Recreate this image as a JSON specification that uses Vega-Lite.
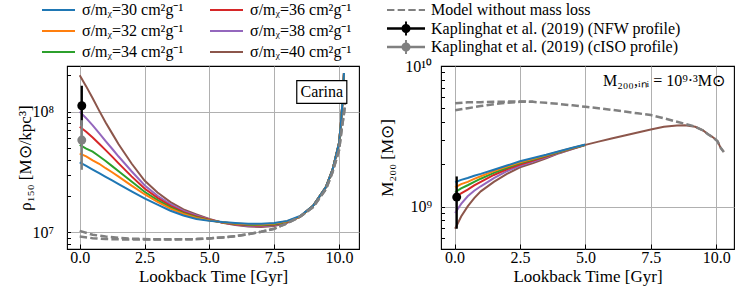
{
"$schema": "https://vega.github.io/schema/vega-lite/v6.json",
"background": "white",
"padding": {"left": 15, "top": 2, "right": 5, "bottom": 5},
"bounds": "flush",
"spacing": 82,
"config": {
  "font": "Liberation Serif",
  "view": {"stroke": "black", "strokeWidth": 1.1},
  "axis": {"domain": false, "labelFont": "Liberation Serif", "labelFontSize": 16, "labelColor": "black", "titleFont": "Liberation Serif", "titleFontSize": 17, "titleFontWeight": "normal", "titleColor": "black", "tickColor": "black", "tickWidth": 1, "gridColor": "#b0b0b0", "gridWidth": 1},
  "legend": {"labelFont": "Liberation Serif", "labelFontSize": 16, "labelColor": "black", "padding": 0, "labelLimit": 400},
  "text": {"font": "Liberation Serif"}
},
"datasets": {
"rho": [
{"t":0,"s":"40","v":2.0e8},{"t":0.25,"s":"40","v":1.62e8},{"t":0.5,"s":"40","v":1.29e8},{"t":0.75,"s":"40","v":1.02e8},{"t":1,"s":"40","v":8.13e7},{"t":1.25,"s":"40","v":6.61e7},{"t":1.5,"s":"40","v":5.37e7},{"t":2,"s":"40","v":3.72e7},{"t":2.5,"s":"40","v":2.69e7},{"t":3,"s":"40","v":2.14e7},{"t":3.5,"s":"40","v":1.78e7},{"t":4,"s":"40","v":1.55e7},{"t":4.5,"s":"40","v":1.41e7},{"t":5,"s":"40","v":1.29e7},{"t":5.5,"s":"40","v":1.2e7},{"t":6,"s":"40","v":1.148e7},{"t":6.5,"s":"40","v":1.117e7},{"t":7,"s":"40","v":1.109e7},{"t":7.5,"s":"40","v":1.13e7},{"t":8,"s":"40","v":1.2e7},{"t":8.5,"s":"40","v":1.35e7},{"t":9,"s":"40","v":1.66e7},{"t":9.5,"s":"40","v":2.39e7},{"t":9.75,"s":"40","v":3.31e7},{"t":10,"s":"40","v":5.5e7},{"t":10.07,"s":"40","v":7.94e7},{"t":10.13,"s":"40","v":1.175e8},{"t":10.19,"s":"40","v":2.09e8},
{"t":0,"s":"38","v":1.0e8},{"t":0.25,"s":"38","v":8.83e7},{"t":0.5,"s":"38","v":7.69e7},{"t":0.75,"s":"38","v":6.65e7},{"t":1,"s":"38","v":5.71e7},{"t":1.25,"s":"38","v":4.93e7},{"t":1.5,"s":"38","v":4.25e7},{"t":2,"s":"38","v":3.21e7},{"t":2.5,"s":"38","v":2.46e7},{"t":3,"s":"38","v":2.01e7},{"t":3.5,"s":"38","v":1.71e7},{"t":4,"s":"38","v":1.503e7},{"t":4.5,"s":"38","v":1.38e7},{"t":5,"s":"38","v":1.279e7},{"t":5.5,"s":"38","v":1.204e7},{"t":6,"s":"38","v":1.159e7},{"t":6.5,"s":"38","v":1.13e7},{"t":7,"s":"38","v":1.122e7},{"t":7.5,"s":"38","v":1.143e7},{"t":8,"s":"38","v":1.211e7},{"t":8.5,"s":"38","v":1.35e7},{"t":9,"s":"38","v":1.66e7},{"t":9.5,"s":"38","v":2.39e7},{"t":9.75,"s":"38","v":3.31e7},{"t":10,"s":"38","v":5.5e7},{"t":10.07,"s":"38","v":7.94e7},{"t":10.13,"s":"38","v":1.175e8},{"t":10.19,"s":"38","v":2.09e8},
{"t":0,"s":"36","v":7.5e7},{"t":0.25,"s":"36","v":6.82e7},{"t":0.5,"s":"36","v":6.11e7},{"t":0.75,"s":"36","v":5.42e7},{"t":1,"s":"36","v":4.8e7},{"t":1.25,"s":"36","v":4.24e7},{"t":1.5,"s":"36","v":3.73e7},{"t":2,"s":"36","v":2.91e7},{"t":2.5,"s":"36","v":2.31e7},{"t":3,"s":"36","v":1.93e7},{"t":3.5,"s":"36","v":1.66e7},{"t":4,"s":"36","v":1.472e7},{"t":4.5,"s":"36","v":1.355e7},{"t":5,"s":"36","v":1.271e7},{"t":5.5,"s":"36","v":1.208e7},{"t":6,"s":"36","v":1.169e7},{"t":6.5,"s":"36","v":1.143e7},{"t":7,"s":"36","v":1.138e7},{"t":7.5,"s":"36","v":1.156e7},{"t":8,"s":"36","v":1.219e7},{"t":8.5,"s":"36","v":1.35e7},{"t":9,"s":"36","v":1.66e7},{"t":9.5,"s":"36","v":2.39e7},{"t":9.75,"s":"36","v":3.31e7},{"t":10,"s":"36","v":5.5e7},{"t":10.07,"s":"36","v":7.94e7},{"t":10.13,"s":"36","v":1.175e8},{"t":10.19,"s":"36","v":2.09e8},
{"t":0,"s":"34","v":5.3e7},{"t":0.25,"s":"34","v":4.95e7},{"t":0.5,"s":"34","v":4.66e7},{"t":0.75,"s":"34","v":4.27e7},{"t":1,"s":"34","v":3.9e7},{"t":1.25,"s":"34","v":3.54e7},{"t":1.5,"s":"34","v":3.21e7},{"t":2,"s":"34","v":2.64e7},{"t":2.5,"s":"34","v":2.17e7},{"t":3,"s":"34","v":1.85e7},{"t":3.5,"s":"34","v":1.61e7},{"t":4,"s":"34","v":1.442e7},{"t":4.5,"s":"34","v":1.334e7},{"t":5,"s":"34","v":1.262e7},{"t":5.5,"s":"34","v":1.21e7},{"t":6,"s":"34","v":1.178e7},{"t":6.5,"s":"34","v":1.156e7},{"t":7,"s":"34","v":1.151e7},{"t":7.5,"s":"34","v":1.169e7},{"t":8,"s":"34","v":1.227e7},{"t":8.5,"s":"34","v":1.35e7},{"t":9,"s":"34","v":1.66e7},{"t":9.5,"s":"34","v":2.39e7},{"t":9.75,"s":"34","v":3.31e7},{"t":10,"s":"34","v":5.5e7},{"t":10.07,"s":"34","v":7.94e7},{"t":10.13,"s":"34","v":1.175e8},{"t":10.19,"s":"34","v":2.09e8},
{"t":0,"s":"32","v":4.49e7},{"t":0.25,"s":"32","v":4.26e7},{"t":0.5,"s":"32","v":3.95e7},{"t":0.75,"s":"32","v":3.7e7},{"t":1,"s":"32","v":3.4e7},{"t":1.25,"s":"32","v":3.15e7},{"t":1.5,"s":"32","v":2.9e7},{"t":2,"s":"32","v":2.44e7},{"t":2.5,"s":"32","v":2.07e7},{"t":3,"s":"32","v":1.79e7},{"t":3.5,"s":"32","v":1.57e7},{"t":4,"s":"32","v":1.419e7},{"t":4.5,"s":"32","v":1.315e7},{"t":5,"s":"32","v":1.253e7},{"t":5.5,"s":"32","v":1.213e7},{"t":6,"s":"32","v":1.186e7},{"t":6.5,"s":"32","v":1.167e7},{"t":7,"s":"32","v":1.164e7},{"t":7.5,"s":"32","v":1.183e7},{"t":8,"s":"32","v":1.236e7},{"t":8.5,"s":"32","v":1.35e7},{"t":9,"s":"32","v":1.66e7},{"t":9.5,"s":"32","v":2.39e7},{"t":9.75,"s":"32","v":3.31e7},{"t":10,"s":"32","v":5.5e7},{"t":10.07,"s":"32","v":7.94e7},{"t":10.13,"s":"32","v":1.175e8},{"t":10.19,"s":"32","v":2.09e8},
{"t":0,"s":"30","v":3.8e7},{"t":0.25,"s":"30","v":3.55e7},{"t":0.5,"s":"30","v":3.31e7},{"t":0.75,"s":"30","v":3.09e7},{"t":1,"s":"30","v":2.88e7},{"t":1.25,"s":"30","v":2.69e7},{"t":1.5,"s":"30","v":2.51e7},{"t":2,"s":"30","v":2.19e7},{"t":2.5,"s":"30","v":1.91e7},{"t":3,"s":"30","v":1.7e7},{"t":3.5,"s":"30","v":1.51e7},{"t":4,"s":"30","v":1.38e7},{"t":4.5,"s":"30","v":1.29e7},{"t":5,"s":"30","v":1.245e7},{"t":5.5,"s":"30","v":1.216e7},{"t":6,"s":"30","v":1.197e7},{"t":6.5,"s":"30","v":1.18e7},{"t":7,"s":"30","v":1.18e7},{"t":7.5,"s":"30","v":1.197e7},{"t":8,"s":"30","v":1.245e7},{"t":8.5,"s":"30","v":1.365e7},{"t":9,"s":"30","v":1.66e7},{"t":9.5,"s":"30","v":2.39e7},{"t":9.75,"s":"30","v":3.31e7},{"t":10,"s":"30","v":5.5e7},{"t":10.07,"s":"30","v":7.94e7},{"t":10.13,"s":"30","v":1.175e8},{"t":10.19,"s":"30","v":2.09e8}
],
"rhoModel": [
{"t":0,"k":"a","v":1.028e7},{"t":0.5,"k":"a","v":9.55e6},{"t":1,"k":"a","v":9.23e6},{"t":1.5,"k":"a","v":9.02e6},{"t":2,"k":"a","v":8.87e6},{"t":3,"k":"a","v":8.75e6},{"t":4,"k":"a","v":8.75e6},{"t":4.5,"k":"a","v":8.79e6},{"t":5,"k":"a","v":8.91e6},{"t":5.5,"k":"a","v":9.08e6},{"t":6,"k":"a","v":9.29e6},{"t":6.5,"k":"a","v":9.66e6},{"t":7,"k":"a","v":1.012e7},{"t":7.5,"k":"a","v":1.072e7},{"t":8,"k":"a","v":1.189e7},{"t":8.5,"k":"a","v":1.35e7},{"t":9,"k":"a","v":1.62e7},{"t":9.5,"k":"a","v":2.29e7},{"t":9.75,"k":"a","v":3.16e7},{"t":10,"k":"a","v":4.79e7},{"t":10.1,"k":"a","v":7.08e7},{"t":10.2,"k":"a","v":1.0e8},{"t":10.23,"k":"a","v":1.175e8},
{"t":0,"k":"b","v":9.23e6},{"t":0.5,"k":"b","v":8.95e6},{"t":1,"k":"b","v":8.81e6},{"t":1.5,"k":"b","v":8.75e6},{"t":2,"k":"b","v":8.71e6},{"t":3,"k":"b","v":8.71e6},{"t":4,"k":"b","v":8.75e6},{"t":4.5,"k":"b","v":8.79e6},{"t":5,"k":"b","v":8.91e6},{"t":5.5,"k":"b","v":9.08e6},{"t":6,"k":"b","v":9.29e6},{"t":6.5,"k":"b","v":9.66e6},{"t":7,"k":"b","v":1.012e7},{"t":7.5,"k":"b","v":1.072e7},{"t":8,"k":"b","v":1.189e7},{"t":8.5,"k":"b","v":1.35e7},{"t":9,"k":"b","v":1.62e7},{"t":9.5,"k":"b","v":2.29e7},{"t":9.75,"k":"b","v":3.16e7},{"t":10,"k":"b","v":4.79e7},{"t":10.1,"k":"b","v":7.08e7},{"t":10.2,"k":"b","v":1.0e8},{"t":10.23,"k":"b","v":1.175e8}
],
"m200": [
{"t":0.02,"s":"40","v":6.97e8},{"t":0.25,"s":"40","v":8.51e8},{"t":0.5,"s":"40","v":1.005e9},{"t":0.75,"s":"40","v":1.15e9},{"t":1,"s":"40","v":1.285e9},{"t":1.5,"s":"40","v":1.5e9},{"t":2,"s":"40","v":1.71e9},{"t":2.5,"s":"40","v":1.905e9},{"t":3,"s":"40","v":2.04e9},{"t":3.5,"s":"40","v":2.21e9},{"t":4,"s":"40","v":2.4e9},{"t":4.5,"s":"40","v":2.57e9},{"t":5,"s":"40","v":2.74e9},
{"t":0.02,"s":"38","v":9.02e8},{"t":0.25,"s":"38","v":1.047e9},{"t":0.5,"s":"38","v":1.186e9},{"t":0.75,"s":"38","v":1.297e9},{"t":1,"s":"38","v":1.396e9},{"t":1.5,"s":"38","v":1.596e9},{"t":2,"s":"38","v":1.786e9},{"t":2.5,"s":"38","v":1.95e9},{"t":3,"s":"38","v":2.09e9},{"t":3.5,"s":"38","v":2.244e9},{"t":4,"s":"38","v":2.415e9},{"t":4.5,"s":"38","v":2.58e9},{"t":5,"s":"38","v":2.75e9},
{"t":0.02,"s":"36","v":1.153e9},{"t":0.25,"s":"36","v":1.245e9},{"t":0.5,"s":"36","v":1.32e9},{"t":0.75,"s":"36","v":1.416e9},{"t":1,"s":"36","v":1.5e9},{"t":1.5,"s":"36","v":1.68e9},{"t":2,"s":"36","v":1.845e9},{"t":2.5,"s":"36","v":1.995e9},{"t":3,"s":"36","v":2.13e9},{"t":3.5,"s":"36","v":2.275e9},{"t":4,"s":"36","v":2.43e9},{"t":4.5,"s":"36","v":2.59e9},{"t":5,"s":"36","v":2.75e9},
{"t":0.02,"s":"34","v":1.27e9},{"t":0.25,"s":"34","v":1.35e9},{"t":0.5,"s":"34","v":1.42e9},{"t":0.75,"s":"34","v":1.5e9},{"t":1,"s":"34","v":1.58e9},{"t":1.5,"s":"34","v":1.74e9},{"t":2,"s":"34","v":1.89e9},{"t":2.5,"s":"34","v":2.04e9},{"t":3,"s":"34","v":2.16e9},{"t":3.5,"s":"34","v":2.3e9},{"t":4,"s":"34","v":2.45e9},{"t":4.5,"s":"34","v":2.6e9},{"t":5,"s":"34","v":2.75e9},
{"t":0.02,"s":"32","v":1.37e9},{"t":0.25,"s":"32","v":1.445e9},{"t":0.5,"s":"32","v":1.5e9},{"t":0.75,"s":"32","v":1.574e9},{"t":1,"s":"32","v":1.644e9},{"t":1.5,"s":"32","v":1.79e9},{"t":2,"s":"32","v":1.93e9},{"t":2.5,"s":"32","v":2.07e9},{"t":3,"s":"32","v":2.19e9},{"t":3.5,"s":"32","v":2.32e9},{"t":4,"s":"32","v":2.47e9},{"t":4.5,"s":"32","v":2.61e9},{"t":5,"s":"32","v":2.76e9},
{"t":0.02,"s":"30","v":1.49e9},{"t":0.25,"s":"30","v":1.55e9},{"t":0.5,"s":"30","v":1.6e9},{"t":0.75,"s":"30","v":1.66e9},{"t":1,"s":"30","v":1.71e9},{"t":1.5,"s":"30","v":1.83e9},{"t":2,"s":"30","v":1.96e9},{"t":2.5,"s":"30","v":2.1e9},{"t":3,"s":"30","v":2.22e9},{"t":3.5,"s":"30","v":2.34e9},{"t":4,"s":"30","v":2.48e9},{"t":4.5,"s":"30","v":2.62e9},{"t":5,"s":"30","v":2.77e9}
],
"m200tail": [
{"t":5,"v":2.75e9},{"t":5.5,"v":2.9e9},{"t":6,"v":3.05e9},{"t":6.5,"v":3.21e9},{"t":7,"v":3.37e9},{"t":7.5,"v":3.54e9},{"t":8,"v":3.7e9},{"t":8.5,"v":3.78e9},{"t":8.8,"v":3.79e9},{"t":9.2,"v":3.7e9},{"t":9.5,"v":3.48e9},{"t":9.7,"v":3.26e9},{"t":9.9,"v":3.09e9},{"t":10.05,"v":2.92e9},{"t":10.17,"v":2.62e9},{"t":10.29,"v":2.45e9}
],
"m200Model": [
{"t":0.02,"k":"a","v":5.43e9},{"t":0.5,"k":"a","v":5.52e9},{"t":1,"k":"a","v":5.53e9},{"t":1.5,"k":"a","v":5.56e9},{"t":2,"k":"a","v":5.58e9},{"t":2.5,"k":"a","v":5.6e9},{"t":3,"k":"a","v":5.56e9},{"t":3.5,"k":"a","v":5.47e9},{"t":4,"k":"a","v":5.37e9},{"t":4.5,"k":"a","v":5.25e9},{"t":5,"k":"a","v":5.13e9},{"t":5.5,"k":"a","v":5.01e9},{"t":6,"k":"a","v":4.88e9},{"t":6.5,"k":"a","v":4.74e9},{"t":7,"k":"a","v":4.61e9},{"t":7.5,"k":"a","v":4.48e9},{"t":8,"k":"a","v":4.25e9},{"t":8.5,"k":"a","v":4.01e9},{"t":9,"k":"a","v":3.8e9},{"t":9.2,"k":"a","v":3.7e9},{"t":9.5,"k":"a","v":3.48e9},{"t":9.7,"k":"a","v":3.26e9},{"t":9.9,"k":"a","v":3.09e9},{"t":10.05,"k":"a","v":2.92e9},{"t":10.17,"k":"a","v":2.62e9},{"t":10.29,"k":"a","v":2.45e9},
{"t":0.02,"k":"b","v":4.84e9},{"t":0.5,"k":"b","v":5.01e9},{"t":1,"k":"b","v":5.19e9},{"t":1.5,"k":"b","v":5.35e9},{"t":2,"k":"b","v":5.47e9},{"t":2.5,"k":"b","v":5.56e9},{"t":3,"k":"b","v":5.56e9}
],
"ptsL": [
{"src":"NFW","t":0.08,"v":1.12e8,"lo":7.66e7,"hi":1.64e8},
{"src":"cISO","t":0.08,"v":5.82e7,"lo":3.3e7,"hi":8.5e7}
],
"ptsR": [
{"src":"NFW","t":0.08,"v":1.17e9,"lo":6.97e8,"hi":1.64e9}
],
"legendItems": [
{"src":"Model without mass loss"},
{"src":"Kaplinghat et al. (2019) (NFW profile)"},
{"src":"Kaplinghat et al. (2019) (cISO profile)"}
]
},
"hconcat": [
{
"width": 292, "height": 183,
"layer": [
{"data": {"name": "rho"}, "mark": {"type": "line", "strokeWidth": 2},
 "encoding": {
  "x": {"field": "t", "type": "quantitative", "scale": {"domain": [-0.49, 10.77], "nice": false, "zero": false},
        "axis": {"values": [0, 2.5, 5, 7.5, 10], "format": ".1f", "title": "Lookback Time [Gyr]", "tickSize": -5, "labelPadding": 5, "titlePadding": 3, "grid": true, "labelFlush": false}},
  "y": {"field": "v", "type": "quantitative", "scale": {"type": "log", "domain": [7.28e6, 2.39e8], "nice": false},
        "axis": {"values": [8e6, 9e6, 1e7, 2e7, 3e7, 4e7, 5e7, 6e7, 7e7, 8e7, 9e7, 1e8, 2e8],
                 "labelExpr": "datum.value == 10000000 ? '10⁷' : datum.value == 100000000 ? '10⁸' : ''",
                 "title": "ρ₁₅₀ [M⊙/kpc³]", "tickSize": -3.5, "labelPadding": 17, "grid": true,
                 "gridOpacity": {"condition": {"test": "datum.value == 10000000 || datum.value == 100000000", "value": 1}, "value": 0},
                 "labelOverlap": false, "labelFlush": false, "titleX": -33, "titleY": 91.5, "titleBaseline": "bottom", "titleAlign": "center", "titleAngle": 270}},
  "stroke": {"field": "s", "type": "nominal",
             "scale": {"domain": ["30","32","34","36","38","40"], "range": ["#1f77b4","#ff7f0e","#2ca02c","#d62728","#9467bd","#8c564b"]},
             "legend": {"orient": "none", "legendX": -16.5, "legendY": -64, "columns": 2, "title": null, "symbolType": "M-3.3,0H3.3", "symbolSize": 100, "symbolStrokeWidth": 2, "labelExpr": "'σ/mᵪ=' + datum.label + ' cm²g⁻¹'", "rowPadding": 5, "columnPadding": 22, "labelOffset": 15.5}}
 }},
{"data": {"name": "rhoModel"}, "mark": {"type": "line", "color": "#808080", "strokeWidth": 2.5, "strokeDash": [7.4, 3.2]},
 "encoding": {
  "x": {"field": "t", "type": "quantitative", "scale": {"domain": [-0.49, 10.77], "nice": false, "zero": false}},
  "y": {"field": "v", "type": "quantitative", "scale": {"type": "log", "domain": [7.28e6, 2.39e8], "nice": false}},
  "detail": {"field": "k"}
 }},
{"data": {"name": "ptsL"}, "transform": [{"filter": "datum.src == 'NFW'"}], "mark": {"type": "rule", "color": "black", "strokeWidth": 2.3},
 "encoding": {
  "x": {"field": "t", "type": "quantitative", "scale": {"domain": [-0.49, 10.77], "nice": false, "zero": false}},
  "y": {"field": "lo", "type": "quantitative", "scale": {"type": "log", "domain": [7.28e6, 2.39e8], "nice": false}},
  "y2": {"field": "hi"}
 }},
{"data": {"name": "ptsL"}, "transform": [{"filter": "datum.src == 'NFW'"}], "mark": {"type": "point", "filled": true, "color": "black", "size": 80, "opacity": 1},
 "encoding": {
  "x": {"field": "t", "type": "quantitative", "scale": {"domain": [-0.49, 10.77], "nice": false, "zero": false}},
  "y": {"field": "v", "type": "quantitative", "scale": {"type": "log", "domain": [7.28e6, 2.39e8], "nice": false}}
 }},
{"data": {"name": "ptsL"}, "transform": [{"filter": "datum.src == 'cISO'"}], "mark": {"type": "rule", "color": "#808080", "strokeWidth": 2.3},
 "encoding": {
  "x": {"field": "t", "type": "quantitative", "scale": {"domain": [-0.49, 10.77], "nice": false, "zero": false}},
  "y": {"field": "lo", "type": "quantitative", "scale": {"type": "log", "domain": [7.28e6, 2.39e8], "nice": false}},
  "y2": {"field": "hi"}
 }},
{"data": {"name": "ptsL"}, "transform": [{"filter": "datum.src == 'cISO'"}], "mark": {"type": "point", "filled": true, "color": "#808080", "size": 80, "opacity": 1},
 "encoding": {
  "x": {"field": "t", "type": "quantitative", "scale": {"domain": [-0.49, 10.77], "nice": false, "zero": false}},
  "y": {"field": "v", "type": "quantitative", "scale": {"type": "log", "domain": [7.28e6, 2.39e8], "nice": false}}
 }},
{"data": {"values": [{}]}, "mark": {"type": "rect", "fill": "white", "stroke": "black", "strokeWidth": 1.2},
 "encoding": {
  "x": {"datum": 8.37, "type": "quantitative"}, "x2": {"datum": 10.3},
  "y": {"datum": 1.17e8, "type": "quantitative"}, "y2": {"datum": 1.81e8}
 }},
{"data": {"values": [{}]}, "mark": {"type": "text", "fontSize": 16, "align": "center", "baseline": "middle", "color": "black"},
 "encoding": {
  "x": {"datum": 9.335, "type": "quantitative"},
  "y": {"datum": 1.45e8, "type": "quantitative"},
  "text": {"value": "Carina"}
 }},
{"data": {"name": "legendItems"}, "mark": {"type": "point", "filled": true, "opacity": 0},
 "encoding": {
  "x": {"datum": 5, "type": "quantitative"},
  "y": {"datum": 1e7, "type": "quantitative"},
  "color": {"field": "src", "type": "nominal",
            "scale": {"domain": ["Model without mass loss", "Kaplinghat et al. (2019) (NFW profile)", "Kaplinghat et al. (2019) (cISO profile)"], "range": ["#808080", "black", "#808080"]},
            "legend": {"orient": "none", "legendX": 331, "legendY": -64, "title": null, "symbolSize": 100, "symbolStrokeWidth": 0, "symbolOpacity": 1, "rowPadding": 2.5, "labelOffset": 17}},
  "shape": {"field": "src", "type": "nominal",
            "scale": {"domain": ["Model without mass loss", "Kaplinghat et al. (2019) (NFW profile)", "Kaplinghat et al. (2019) (cISO profile)"],
                      "range": ["M-3.8,-0.21H-2.32V0.21H-3.8Z M-1.67,-0.21H-0.19V0.21H-1.67Z M0.46,-0.21H1.94V0.21H0.46Z M2.55,-0.21H3.8V0.21H2.55Z",
                                "M-3.8,-0.23H3.8V0.23H-3.8Z M-0.19,-1.4H0.19V1.4H-0.19Z M0,-0.91A0.91,0.91 0 1,1 0,0.91A0.91,0.91 0 1,1 0,-0.91Z",
                                "M-3.8,-0.23H3.8V0.23H-3.8Z M-0.19,-1.4H0.19V1.4H-0.19Z M0,-0.91A0.91,0.91 0 1,1 0,0.91A0.91,0.91 0 1,1 0,-0.91Z"]},
            "legend": {"orient": "none", "legendX": 331, "legendY": -64, "title": null, "symbolSize": 100, "symbolStrokeWidth": 0, "symbolOpacity": 1, "rowPadding": 2.5, "labelOffset": 17}}
 }}
]
},
{
"width": 293, "height": 183,
"layer": [
{"data": {"name": "m200"}, "mark": {"type": "line", "strokeWidth": 2},
 "encoding": {
  "x": {"field": "t", "type": "quantitative", "scale": {"domain": [-0.52, 10.68], "nice": false, "zero": false},
        "axis": {"values": [0, 2.5, 5, 7.5, 10], "format": ".1f", "title": "Lookback Time [Gyr]", "tickSize": -5, "labelPadding": 5, "titlePadding": 3, "grid": true, "labelFlush": false}},
  "y": {"field": "v", "type": "quantitative", "scale": {"type": "log", "domain": [5.0e8, 1.0e10], "nice": false},
        "axis": {"values": [6e8, 7e8, 8e8, 9e8, 1e9, 2e9, 3e9, 4e9, 5e9, 6e9, 7e9, 8e9, 9e9, 1e10],
                 "labelExpr": "datum.value == 1000000000 ? '10⁹' : datum.value == 10000000000 ? '10¹⁰' : ''",
                 "title": "M₂₀₀ [M⊙]", "tickSize": -3.5, "labelPadding": 13, "grid": true,
                 "gridOpacity": {"condition": {"test": "datum.value == 1000000000", "value": 1}, "value": 0},
                 "labelOverlap": false, "labelFlush": false, "titleX": -45, "titleY": 91.5, "titleBaseline": "bottom", "titleAlign": "center", "titleAngle": 270}},
  "stroke": {"field": "s", "type": "nominal",
             "scale": {"domain": ["30","32","34","36","38","40"], "range": ["#1f77b4","#ff7f0e","#2ca02c","#d62728","#9467bd","#8c564b"]}}
 }},
{"data": {"name": "m200tail"}, "mark": {"type": "line", "strokeWidth": 2, "color": "#8c564b"},
 "encoding": {
  "x": {"field": "t", "type": "quantitative", "scale": {"domain": [-0.52, 10.68], "nice": false, "zero": false}},
  "y": {"field": "v", "type": "quantitative", "scale": {"type": "log", "domain": [5.0e8, 1.0e10], "nice": false}}
 }},
{"data": {"name": "m200Model"}, "mark": {"type": "line", "color": "#808080", "strokeWidth": 2.5, "strokeDash": [7.4, 3.2]},
 "encoding": {
  "x": {"field": "t", "type": "quantitative", "scale": {"domain": [-0.52, 10.68], "nice": false, "zero": false}},
  "y": {"field": "v", "type": "quantitative", "scale": {"type": "log", "domain": [5.0e8, 1.0e10], "nice": false}},
  "detail": {"field": "k"}
 }},
{"data": {"name": "ptsR"}, "mark": {"type": "rule", "color": "black", "strokeWidth": 2.3},
 "encoding": {
  "x": {"field": "t", "type": "quantitative", "scale": {"domain": [-0.52, 10.68], "nice": false, "zero": false}},
  "y": {"field": "lo", "type": "quantitative", "scale": {"type": "log", "domain": [5.0e8, 1.0e10], "nice": false}},
  "y2": {"field": "hi"}
 }},
{"data": {"name": "ptsR"}, "mark": {"type": "point", "filled": true, "color": "black", "size": 80, "opacity": 1},
 "encoding": {
  "x": {"field": "t", "type": "quantitative", "scale": {"domain": [-0.52, 10.68], "nice": false, "zero": false}},
  "y": {"field": "v", "type": "quantitative", "scale": {"type": "log", "domain": [5.0e8, 1.0e10], "nice": false}}
 }},
{"data": {"values": [{}]}, "mark": {"type": "text", "fontSize": 16, "align": "right", "baseline": "middle", "color": "black"},
 "encoding": {
  "x": {"datum": 10.34, "type": "quantitative"},
  "y": {"datum": 7.8e9, "type": "quantitative"},
  "text": {"value": "M₂₀₀,ᵢₙᵢ = 10⁹·³M⊙"}
 }}
]
}
]
}
